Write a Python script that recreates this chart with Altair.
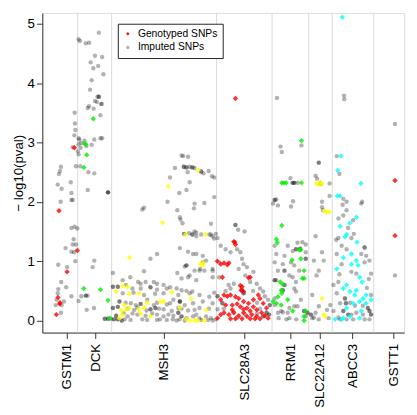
import altair as alt
import pandas as pd

# ---- gene layout (genomic position index) ----
GENES = ["GSTM1", "DCK", "MSH3", "SLC28A3", "RRM1", "SLC22A12", "ABCC3", "GSTT1"]
GENE_TICKS = [68, 97, 167, 249, 296, 326, 359, 401]
GENE_COLORS = ["#ff0000", "#00ee00", "#ffff00", "#ff0000", "#00ee00", "#ffff00", "#00ffff", "#ff0000"]
BOUNDARIES = [79, 113.7, 220.7, 277.3, 314.7, 338.7, 381]

# ---- genotyped SNPs (x = position index, y = -log10 p) ----
GSTM1_GT_X = [60, 78.7, 68.3, 59, 60.7, 57.3, 61, 75.7]
GSTM1_GT_Y = [1.85, 1.18, 0.82, 0.39, 0.28, 0.10, 0.30, 2.91]
DCK_GT_X = [95, 86, 87.3, 88.3, 85.3, 85.3, 102.3, 110, 112]
DCK_GT_Y = [3.40, 2.98, 2.97, 2.79, 2.58, 0.54, 0.52, 0.34, 0.04]
MSH3_GT_X = [171.7, 165.7, 201.7, 189, 209.3, 131.7, 207.3, 206, 204, 125, 130, 118.3, 131.7, 141.7,
             175, 195, 126.7, 150, 163.3, 166.7, 123.3, 128.3, 131.7, 141.7, 146.7, 210, 121.7, 125,
             143.3, 153.3, 193.3, 198.3, 201.7, 208.3, 183.3, 190]
MSH3_GT_Y = [2.26, 1.65, 2.53, 1.45, 1.45, 1.06, 0.97, 0.93, 0.95, 0.58, 0.57, 0.49, 0.45, 0.46,
             0.48, 0.37, 0.26, 0.30, 0.32, 0.32, 0.17, 0.18, 0.21, 0.19, 0.22, 0.18, 0.04, 0.10,
             0.12, 0.07, 0.00, 0.00, 0.00, 0.00, 0.22, 0.02]
SLC28A3_GT_X = [240, 238.3, 240, 239.3, 221.5, 225, 228.3, 231.7, 233.3, 226.7, 255, 253.3, 245, 246.7,
                245.7, 248.3, 228.3, 231.7, 235, 240, 243.3, 263.3, 265, 225, 248.3, 253.3, 258.3,
                268.3, 230, 236.7, 241.7, 245, 251.7, 258.3, 261.7, 271.7, 228.3, 233.3, 238.3, 243.3,
                248.3, 251.7, 256.7, 261.7, 266.7, 270, 235, 240, 246.7, 255, 260, 265, 273.3, 221.7,
                225, 248.3, 255, 236.7]
SLC28A3_GT_Y = [3.74, 1.33, 1.28, 1.32, 1.00, 0.95, 0.97, 0.94, 0.97, 0.73, 0.73, 0.72, 0.59, 0.57,
                0.51, 0.49, 0.43, 0.41, 0.43, 0.40, 0.37, 0.43, 0.37, 0.35, 0.32, 0.29, 0.35,
                0.29, 0.26, 0.26, 0.28, 0.23, 0.21, 0.23, 0.18, 0.21, 0.13, 0.10, 0.13, 0.08,
                0.13, 0.07, 0.10, 0.07, 0.13, 0.08, 0.03, 0.03, 0.03, 0.03, 0.03, 0.03, 0.04, 0.04,
                0.10, 0.19, 0.16, 0.18]
RRM1_GT_X = [307.3, 287.3, 289.3, 291.7, 307.3, 287.3, 281.7, 282.7, 305, 306.7, 297.7, 306.7, 310,
             308.3, 310, 288.3, 287.3, 278.3, 281.7, 293.3, 298.3, 310, 285.7, 286.7, 283.3, 286.7,
             311.7, 310]
RRM1_GT_Y = [3.03, 2.32, 2.32, 2.32, 2.32, 1.60, 1.37, 1.31, 1.19, 1.19, 1.02, 1.04, 0.84,
             0.71, 0.71, 0.61, 0.46, 0.32, 0.29, 0.35, 0.16, 0.00, 0.65, 0.51, 0.40, 0.26,
             0.16, 0.07]
SLC22A12_GT_X = [322.7, 324, 326.7, 328.3, 330.7, 333.3, 336, 328.3, 330, 331.7]
SLC22A12_GT_Y = [2.31, 2.29, 2.33, 2.30, 1.85, 1.83, 1.83, 0.37, 0.10, 0.07]
ABCC3_GT_X = [349, 347.7, 344.3, 368, 346.7, 344, 346.7, 356.7, 363.3, 353.3, 351.7, 364, 350, 358.3,
              363.3, 358.3, 365, 343.3, 366.7, 369.3, 350, 353.3, 356.7, 363.3, 361.7, 370, 373.3,
              366.7, 360, 373.3, 353.3, 368.3, 341.7, 348.3, 350, 356.7, 366.7, 378.3]
ABCC3_GT_Y = [5.11, 2.77, 2.53, 2.31, 2.10, 2.10, 1.59, 1.64, 1.74, 1.45, 1.41, 1.32, 1.06, 1.12,
              1.01, 0.95, 0.93, 0.87, 0.73, 0.65, 0.54, 0.60, 0.49, 0.51, 0.43, 0.37, 0.43,
              0.32, 0.29, 0.29, 0.21, 0.16, 0.02, 0.02, 0.04, 0.07, 0.04, 0.35]
GSTT1_GT_X = [402.7, 402.7]
GSTT1_GT_Y = [2.36, 1.43]

# ---- imputed SNPs ----
GSTM1_IMP_X = [60, 61, 62, 58.7, 62.7, 72, 72.7, 74, 77.3, 76.7, 76.3, 76, 75.7, 74, 61.7, 72.7, 76,
               78.7, 75, 74, 77.3, 72.7, 75.3, 66.7, 59.3, 68.3, 76.7, 62.3, 59.3, 58.7, 67.3, 72.7,
               57.7, 56.7, 62.7, 62, 65, 72.7]
GSTM1_IMP_Y = [2.47, 2.52, 2.59, 2.29, 2.22, 2.33, 2.15, 2.03, 2.60, 3.21, 3.32, 3.50, 3.12, 2.92,
               2.00, 1.56, 1.58, 1.55, 1.37, 1.28, 1.28, 1.16, 1.15, 1.22, 0.94, 0.90, 1.00, 0.65,
               0.53, 0.46, 0.56, 0.41, 0.35, 0.26, 0.26, 0.13, 0.32, 2.03]
DCK_IMP_X = [80, 81.3, 87.3, 90.7, 100.7, 96.7, 104, 92.3, 100, 95, 105.3, 93.3, 91.7, 99.3, 100.7,
             100.7, 96.7, 98.7, 103.3, 103.3, 90.7, 89.3, 95.3, 102.3, 80, 80.7, 86, 96, 102.3, 104,
             82.7, 80, 82, 79.3, 80, 88, 93.3, 81.7, 96, 90, 89.3, 110, 110, 110, 96, 94.3, 82.7,
             87.3, 87.3, 89.3, 80, 88.3, 95.7, 106.7, 106.7, 110, 110, 113]
DCK_IMP_Y = [4.74, 4.71, 4.67, 4.68, 4.85, 4.46, 4.44, 4.35, 4.29, 4.25, 4.15, 4.05, 3.89, 3.77, 3.77,
             3.77, 3.70, 3.68, 3.65, 3.65, 3.61, 3.58, 3.57, 3.46, 3.07, 3.05, 3.03, 3.05, 3.07, 3.07,
             2.99, 2.97, 2.91, 2.85, 2.80, 2.94, 2.96, 2.60, 2.48, 2.50, 2.20, 2.16, 2.16, 2.16, 1.01,
             0.90, 0.41, 0.42, 0.42, 0.42, 0.33, 0.18, 0.21, 0.03, 0.03, 0.03, 0.03, 0.03]
MSH3_IMP_X = [185, 186.7, 191.7, 187.3, 187.3, 190, 190, 193.3, 196, 196, 198.3, 205, 205, 207.3, 212.7,
              216, 218.3, 191.3, 193.3, 178.3, 173.3, 190, 182.7, 170.7, 180.7, 198.3, 197.7, 208.3,
              218.3, 145, 146.7, 183.3, 184, 186, 215,
              187.7, 187.7, 192.7, 196, 196, 198.3, 200, 205, 213.3, 216.7, 220, 200, 215, 218.3,
              153.3, 160, 183.3, 191.7, 188.3, 190, 190, 200, 206.7, 210, 198.3, 180.7, 193.3, 203.3,
              216.7, 216.7, 115, 146.7, 132.7, 140.7, 160, 206.7, 200, 208.3, 196.7, 204, 216.7, 125,
              128.3, 143.3, 148.3, 156.7, 166.7, 185, 191.7,
              115, 115, 120, 120, 135, 143.3, 153.3, 153.3, 160, 170, 173.3, 180, 185, 190, 196,
              125, 146.7, 166.7, 181.7, 193.3, 203.3, 213.3, 218.3, 136, 158,
              121.7, 121.7, 133.3, 138.3, 143.3, 143.3, 156.7, 173.3, 176.7, 183.3, 183.3, 183.3, 188.3,
              196.7, 206.7, 216.7, 128, 150, 160, 170,
              115, 115, 120, 120, 136.7, 149.3, 153.3, 153.3, 158.3, 158.3, 166.7, 175, 181.7, 191.7,
              198.3, 203.3, 221.7, 130, 140, 162, 185, 213,
              118.3, 118.3, 130, 135, 140, 148.3, 160, 166.7, 171.7, 176.7, 181.7, 181.7, 185, 185, 190,
              196.7, 203.3, 210, 215, 220, 126, 155, 200,
              116, 116, 120, 120, 124, 124, 127, 133, 145, 150, 160, 163, 170, 176, 180, 183, 188.3,
              216.7, 212, 205]
MSH3_IMP_Y = [2.78, 2.77, 2.76, 2.59, 2.59, 2.58, 2.58, 2.59, 2.58, 2.58, 2.57, 2.51, 2.51, 2.48, 2.52,
              2.43, 2.41, 2.50, 2.33, 2.57, 2.41, 2.20, 2.15, 2.00, 1.86, 1.97, 1.89, 1.98,
              2.08, 1.87, 1.90, 1.74, 1.70, 1.64, 1.63,
              1.46, 1.46, 1.47, 1.45, 1.45, 1.50, 1.42, 1.45, 1.45, 1.42, 1.46, 1.48, 1.45, 1.38,
              1.04, 1.12, 1.22, 1.16, 0.91, 0.93, 0.93, 1.12, 1.09, 1.01, 0.84, 0.80, 0.76, 0.84,
              0.84, 0.73, 0.80, 0.83, 0.73, 0.65, 0.62, 0.98, 0.68, 0.84, 1.12, 0.87, 0.87, 0.68,
              0.60, 0.62, 0.65, 0.65, 0.60, 0.71, 0.73,
              0.57, 0.57, 0.57, 0.57, 0.54, 0.54, 0.56, 0.56, 0.52, 0.54, 0.56, 0.54, 0.51, 0.50, 0.49,
              0.46, 0.43, 0.46, 0.43, 0.46, 0.43, 0.40, 0.47, 0.47, 0.45,
              0.32, 0.32, 0.29, 0.26, 0.28, 0.28, 0.26, 0.29, 0.35, 0.32, 0.32, 0.32, 0.26,
              0.29, 0.32, 0.29, 0.30, 0.35, 0.30, 0.27,
              0.21, 0.21, 0.23, 0.23, 0.18, 0.17, 0.19, 0.19, 0.21, 0.21, 0.19, 0.16, 0.21, 0.17,
              0.18, 0.21, 0.19, 0.20, 0.22, 0.20, 0.20, 0.20,
              0.08, 0.08, 0.07, 0.12, 0.10, 0.08, 0.10, 0.07, 0.10, 0.08, 0.13, 0.13, 0.07, 0.07, 0.04,
              0.07, 0.04, 0.07, 0.04, 0.02, 0.12, 0.12, 0.10,
              0.02, 0.02, 0.02, 0.02, 0.00, 0.00, 0.02, 0.01, 0.02, 0.01, 0.01, 0.02, 0.01, 0.02, 0.00,
              0.02, 0.00, 0.00, 0.01, 0.01]
SLC28A3_IMP_X = [221.7, 230, 235, 241.7, 245, 246.7, 248.3, 251.7, 243.3, 238.3, 235, 250, 255, 258.3,
                 261.7, 265, 268.3, 270, 273.3, 275, 275, 271.7, 271.7, 274.3, 274.3, 268.3, 268.3,
                 223.3, 248.3, 248.3, 246.7, 246.7, 221.7, 221.7, 226.7, 226.7, 240, 240, 242.7, 249.3,
                 225, 223.3, 230, 262, 258, 233, 228, 265, 250, 242, 238, 262]
SLC28A3_IMP_Y = [1.39, 1.20, 1.15, 1.20, 1.15, 1.04, 0.95, 0.90, 0.87, 0.62, 0.54, 0.76, 0.65, 0.82,
                 0.62, 0.54, 0.49, 0.41, 0.35, 0.26, 0.26, 0.13, 0.13, 0.10, 0.10, 0.07, 0.07,
                 0.73, 0.46, 0.46, 0.51, 0.51, 0.41, 0.41, 0.29, 0.29, 1.61, 1.61, 1.53, 1.50,
                 1.26, 0.98, 0.50, 0.30, 0.50, 0.60, 0.20, 0.20, 0.10, 0.05, 0.15, 0.12]
RRM1_IMP_X = [282.3, 307.3, 286, 287.3, 296, 298.3, 298.3, 300, 300, 303.3, 280, 280, 281.7, 283.3, 298.7,
              296.7, 278.3, 280, 301.7, 301.7, 298.3, 311.7, 311.7, 290, 290, 283.3, 280, 280, 281.7,
              288.3, 288.3, 280, 300, 295, 310, 310, 313.3, 313.3, 311.7, 286.7, 293.3, 283.3, 303.3,
              306.7, 300, 301.7, 295, 305, 300, 296.7, 303.3, 308.3, 293.3, 290, 288.3, 280, 281.7,
              290, 290, 298.3, 311.7, 311.7, 301.7, 295, 288.3, 280, 306, 306, 292, 302, 284]
RRM1_IMP_Y = [3.75, 2.95, 2.93, 2.84, 2.40, 2.32, 2.32, 2.32, 2.32, 2.32, 2.03, 2.03, 2.04, 1.94, 2.01,
              1.92, 1.97, 1.26, 1.20, 1.20, 1.17, 1.28, 1.15, 0.84, 0.84, 0.84, 0.68, 0.68, 0.68,
              0.51, 0.51, 0.37, 0.24, 0.21, 0.16, 0.16, 0.13, 0.13, 0.07, 0.16, 0.13, 0.13, 0.24,
              0.35, 0.54, 0.65, 0.76, 0.84, 0.93, 0.98, 1.31, 1.32, 1.26, 1.09, 0.95, 0.98, 1.12,
              0.60, 0.60, 0.73, 1.04, 1.04, 0.49, 0.04, 0.14, 0.26, 1.21, 1.21, 0.02, 0.02, 0.04]
SLC22A12_IMP_X = [326.7, 326.7, 336, 321.7, 325, 325, 323.3, 328.3, 329.3, 321.7, 320, 322.7, 328.3, 330,
                  318.3, 321.7, 318.3, 325, 335, 333.3, 336.7, 325, 336, 328.3, 317, 317, 320, 325]
SLC22A12_IMP_Y = [2.31, 2.31, 2.31, 2.44, 2.66, 2.66, 2.39, 2.00, 1.86, 1.42, 1.01, 0.76, 1.15, 1.01,
                  0.43, 0.13, 0.04, 0.02, 0.04, 0.18, 0.26, 0.24, 2.10, 1.91, 0.10, 0.10, 0.05, 0.84]
ABCC3_IMP_X = [350.7, 351, 343.3, 346, 353.3, 353.3, 345, 369.3, 350, 345, 342.7, 358.3, 360.7, 348.3,
               353.3, 371.7, 371.7, 368.3, 373.3, 371.7, 376.7, 378.3, 343.3, 348.3, 340, 345, 343.3,
               351.7, 351.7, 352.7, 352.7, 346.7, 340, 350, 350, 355, 355, 358.3, 363.3, 370, 375, 375,
               376.7, 376.7, 378.3, 378.3, 376.7, 346.7, 353.3, 360, 371.7, 378.3, 363.3, 358.3, 346,
               350, 349.3, 368.3, 360, 355, 357, 362, 345, 370, 374, 376]
ABCC3_IMP_Y = [3.79, 3.73, 2.77, 2.47, 2.00, 1.86, 1.72, 2.00, 1.77, 1.39, 1.36, 1.39, 1.46, 1.26,
               1.20, 1.23, 1.23, 1.12, 1.09, 0.98, 1.01, 0.79, 1.12, 0.95, 0.60, 0.65, 0.46,
               0.37, 0.37, 0.29, 0.29, 0.29, 0.16, 0.16, 0.16, 0.10, 0.10, 0.10, 0.13, 0.10, 0.21, 0.21,
               0.16, 0.16, 0.10, 0.10, 0.02, 0.02, 0.02, 0.02, 0.02, 0.43, 0.79, 0.82, 0.78,
               2.05, 1.95, 1.97, 1.69, 1.56, 0.30, 0.25, 0.05, 0.25, 0.55, 0.70]
GSTT1_IMP_X = [402.7, 402.7]
GSTT1_IMP_Y = [3.31, 0.76]

LEGEND_LABELS = ["Genotyped SNPs", "Imputed SNPs"]

# ---- tables ----
gt_sets = [
    ("GSTM1", GSTM1_GT_X, GSTM1_GT_Y), ("DCK", DCK_GT_X, DCK_GT_Y), ("MSH3", MSH3_GT_X, MSH3_GT_Y),
    ("SLC28A3", SLC28A3_GT_X, SLC28A3_GT_Y), ("RRM1", RRM1_GT_X, RRM1_GT_Y),
    ("SLC22A12", SLC22A12_GT_X, SLC22A12_GT_Y), ("ABCC3", ABCC3_GT_X, ABCC3_GT_Y),
    ("GSTT1", GSTT1_GT_X, GSTT1_GT_Y),
]
imp_sets = [
    (GSTM1_IMP_X, GSTM1_IMP_Y), (DCK_IMP_X, DCK_IMP_Y), (MSH3_IMP_X, MSH3_IMP_Y),
    (SLC28A3_IMP_X, SLC28A3_IMP_Y), (RRM1_IMP_X, RRM1_IMP_Y), (SLC22A12_IMP_X, SLC22A12_IMP_Y),
    (ABCC3_IMP_X, ABCC3_IMP_Y), (GSTT1_IMP_X, GSTT1_IMP_Y),
]
gt_rows = []
for g, xs, ys in gt_sets:
    for x, y in zip(xs, ys):
        gt_rows.append({"pos": x, "logp": y, "gene": g})
gt_df = pd.DataFrame(gt_rows)
imp_rows = []
for xs, ys in imp_sets:
    for x, y in zip(xs, ys):
        imp_rows.append({"pos": x, "logp": y, "type": LEGEND_LABELS[1]})
imp_df = pd.DataFrame(imp_rows)
bound_df = pd.DataFrame({"pos": BOUNDARIES})

FONT = "Liberation Sans"
label_expr = ""
for p, g in zip(GENE_TICKS, GENES):
    label_expr += f"datum.value == {p} ? '{g}' : "
label_expr += "''"

x_scale = alt.Scale(domain=[43, 412], nice=False, zero=False)
y_scale = alt.Scale(domain=[-0.203, 5.182], nice=False, zero=False)

x_axis = alt.Axis(values=GENE_TICKS, labelExpr=label_expr, labelAngle=-90, title=None,
                  labelFont=FONT, labelFontSize=13.5, labelColor="black", tickColor="#333",
                  domainColor="#333", tickSize=6, labelPadding=5, grid=False, labelOverlap=False)
y_axis = alt.Axis(values=[0, 1, 2, 3, 4, 5], title="\u2212 log10(pval)", labelFont=FONT,
                  labelFontSize=13.5, labelColor="black", tickColor="#333", domainColor="#333",
                  tickSize=6, labelPadding=2, grid=False, titleFont=FONT, titleFontSize=13.5,
                  titleFontWeight="normal", titleColor="black", titlePadding=2)

rules = alt.Chart(bound_df).mark_rule(color="#dadada", strokeWidth=1).encode(
    x=alt.X("pos:Q", scale=x_scale, axis=x_axis)
)

imputed = alt.Chart(imp_df).mark_point(filled=True, size=20, strokeWidth=0).encode(
    x=alt.X("pos:Q", scale=x_scale, axis=x_axis),
    y=alt.Y("logp:Q", scale=y_scale, axis=y_axis),
    color=alt.Color("type:N", scale=alt.Scale(domain=LEGEND_LABELS, range=["#ff0000", "#000000"]),
                    legend=alt.Legend(title=None, orient="none", legendX=77, legendY=11,
                                      strokeColor="#222", fillColor="white", padding=5,
                                      labelFont=FONT, labelFontSize=10.5, labelColor="black",
                                      symbolSize=12, rowPadding=3, labelOffset=5,
                                      symbolStrokeWidth=0)),
    shape=alt.Shape("type:N", scale=alt.Scale(domain=LEGEND_LABELS, range=["diamond", "circle"])),
    opacity=alt.Opacity("type:N", scale=alt.Scale(domain=LEGEND_LABELS, range=[1.0, 0.3])),
)

genotyped = alt.Chart(gt_df).mark_point(filled=True, shape="diamond", size=30, opacity=0.8,
                                        strokeWidth=0).encode(
    x=alt.X("pos:Q", scale=x_scale, axis=x_axis),
    y=alt.Y("logp:Q", scale=y_scale, axis=y_axis),
    color=alt.Color("gene:N", scale=alt.Scale(domain=GENES, range=GENE_COLORS), legend=None),
)

chart = alt.layer(rules, imputed, genotyped).resolve_scale(
    color="independent", shape="independent", opacity="independent"
).properties(
    width=369, height=326,
    autosize=alt.AutoSizeParams(type="none"),
    padding={"left": 35, "top": 1, "right": 5, "bottom": 79},
).configure_view(stroke="#333", strokeWidth=1).configure(background="white")

chart.save("out.html", embed_options={"renderer": "svg", "actions": False})
